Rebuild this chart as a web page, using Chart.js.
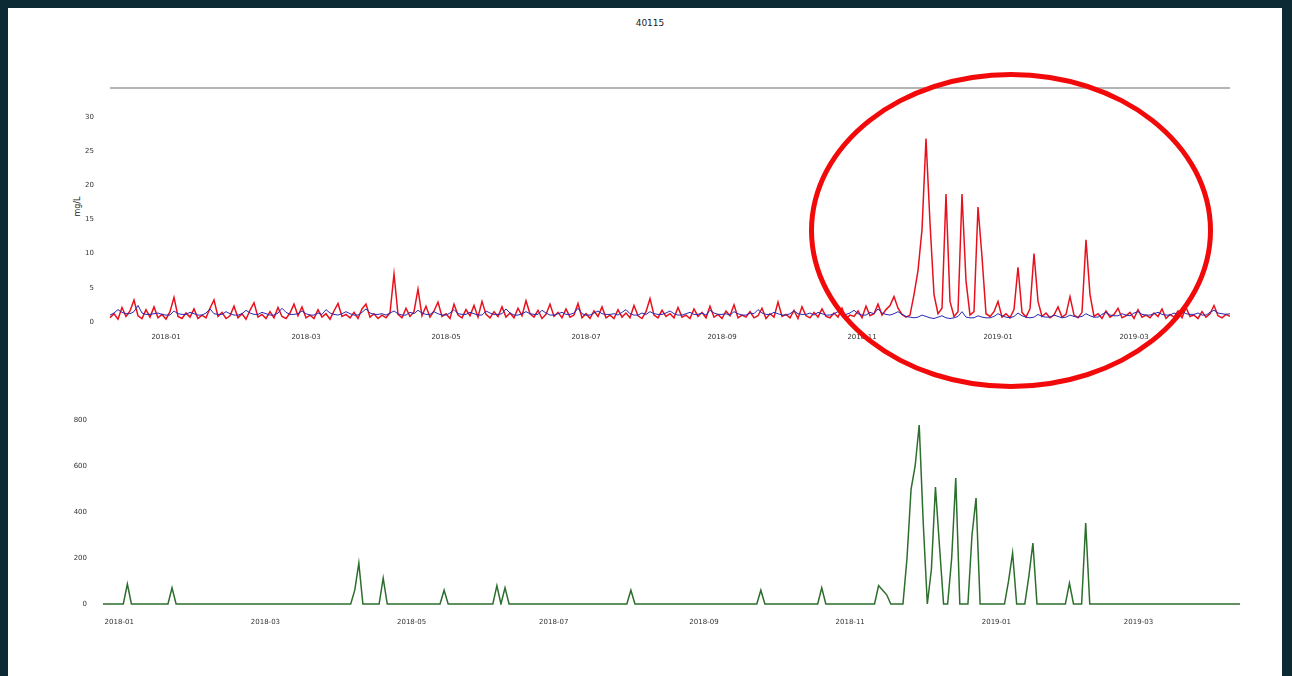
<!DOCTYPE html>
<html>
<head>
<meta charset="utf-8">
<script src="https://cdn.jsdelivr.net/npm/chart.js@4.4.1/dist/chart.umd.min.js"></script>
<style>
  html, body { margin: 0; padding: 0; }
  body { width: 1292px; height: 676px; background: #0c2a33; position: relative; overflow: hidden; }
  #panel { position: absolute; left: 8px; top: 8px; width: 1274px; height: 668px; background: #fff; }
  #title { position: absolute; left: 0; top: 18px; width: 1300px; text-align: center;
           font: 9px "DejaVu Sans", sans-serif; color: #222; }
  #ylab { position: absolute; left: 67px; top: 202px; transform: rotate(-90deg);
          font: 8px "DejaVu Sans", sans-serif; color: #222; }
  canvas { position: absolute; }
  /* anotación: elipse roja sobre el gráfico superior */
  #marca { position: absolute; left: 809px; top: 72px; width: 394px; height: 307px;
           border: 5px solid #f20a0a; border-radius: 50%; pointer-events: none; }
</style>
</head>
<body>
<div id="panel"></div>
<div id="title">40115</div>
<div id="ylab">mg/L</div>
<canvas id="topChart" width="1222" height="265" style="left:8px; top:80px;"></canvas>
<canvas id="bottomChart" width="1232" height="225" style="left:8px; top:405px;"></canvas>
<div id="marca"></div>
<script>
// ── DATOS ──────────────────────────────────────────────
// serie roja (superior)
const redValues = [
  0.6,1.2,0.4,2.1,0.8,1.6,3.2,0.9,0.5,1.8,0.7,2.2,0.6,1.1,0.4,1.5,3.6,0.8,0.5,1.3,
  0.7,1.9,0.5,1.0,0.6,2.0,3.2,0.8,1.4,0.5,0.9,2.3,0.6,1.2,0.4,1.7,2.8,0.7,1.1,0.5,
  1.5,0.6,2.1,0.8,0.5,1.3,2.6,0.9,2.2,0.6,1.0,0.5,1.8,0.7,1.2,0.4,1.6,2.7,0.8,1.1,
  0.6,1.4,0.5,1.9,2.6,0.7,1.2,0.5,1.0,0.6,1.3,7.0,1.1,0.6,2.0,0.8,1.5,4.8,0.9,2.3,
  0.7,1.6,2.9,0.8,1.2,0.5,2.6,1.0,0.6,1.8,0.9,2.4,0.7,3.0,1.1,0.6,1.5,0.8,2.2,0.7,
  1.3,0.6,2.0,0.9,3.1,1.2,0.7,1.7,0.5,1.1,2.6,0.8,1.4,0.6,1.9,0.7,1.0,2.7,0.6,1.2,
  0.5,1.6,0.8,2.2,0.6,1.0,0.5,1.8,0.7,1.3,0.6,2.4,0.9,0.5,1.5,3.4,1.0,0.6,1.7,0.8,
  1.2,0.6,2.1,0.7,1.0,0.5,1.9,0.8,1.4,0.6,2.3,0.7,1.1,0.5,1.6,0.9,2.5,0.6,1.0,0.7,
  1.5,0.6,0.9,2.0,0.5,1.2,0.7,2.9,0.8,1.1,0.6,1.7,0.5,2.2,0.9,0.6,1.4,0.7,1.9,0.8,
  0.6,1.3,0.7,2.0,0.5,1.0,0.8,1.6,0.6,2.3,0.9,1.2,2.6,1.0,1.8,2.4,3.7,2.0,1.1,0.7,
  1.0,4.0,7.5,13.5,26.8,14.5,4.0,1.2,2.0,18.7,3.0,0.8,1.5,18.7,6.0,1.0,1.5,16.8,9.5,1.2,
  0.8,1.5,3.0,0.7,1.2,0.6,1.8,8.0,1.4,0.7,1.9,10.0,3.0,0.8,1.3,0.6,1.0,2.2,0.7,1.1,
  3.7,1.0,0.6,1.4,12.0,4.0,0.8,1.2,0.5,1.6,0.7,1.1,2.0,0.6,0.9,1.4,0.5,1.8,0.7,1.0,
  0.6,1.3,0.8,1.9,0.5,1.1,0.7,1.6,0.6,2.1,0.8,1.0,0.5,1.5,0.7,1.2,2.4,0.9,0.6,1.1,
  0.8
];
// serie azul (superior)
const blueValues = [
  1.0,1.3,1.8,1.4,1.2,1.2,1.5,2.4,1.3,1.1,1.1,1.2,1.3,1.1,1.0,1.0,1.6,1.2,1.1,1.1,
  1.4,1.2,1.0,1.0,1.3,1.9,1.2,1.1,1.1,1.5,1.2,1.0,1.0,1.2,1.7,1.3,1.1,1.1,1.4,1.2,
  1.0,1.0,1.3,2.0,1.4,1.1,1.1,1.2,1.6,1.2,1.0,1.0,1.3,1.1,1.8,1.3,1.1,1.0,1.2,1.5,
  1.2,1.0,1.0,1.4,1.9,1.3,1.1,1.1,1.2,1.0,1.3,1.6,1.2,1.0,1.0,1.4,1.2,1.7,1.3,1.1,
  1.1,1.5,1.2,1.0,1.0,1.3,1.8,1.2,1.1,1.1,1.4,1.2,1.0,1.0,1.6,1.3,1.1,1.1,1.2,1.9,
  1.3,1.0,1.0,1.2,1.5,1.2,1.1,1.1,1.7,1.3,1.0,1.0,1.2,1.4,1.1,1.1,1.3,2.0,1.2,1.0,
  1.0,1.3,1.6,1.2,1.1,1.1,1.2,1.0,1.4,1.8,1.2,1.0,1.0,1.3,1.1,1.5,1.2,1.1,1.1,1.3,
  1.6,1.2,1.0,1.0,1.2,1.4,1.1,1.1,1.3,1.0,1.7,1.3,1.1,1.1,1.2,1.0,1.5,1.2,1.0,1.0,
  1.3,1.2,1.8,1.3,1.1,1.1,1.4,1.2,1.0,1.0,1.2,1.6,1.2,1.1,1.1,1.3,1.0,1.4,1.2,1.0,
  1.0,1.2,1.5,1.1,1.1,1.3,1.7,1.2,1.0,1.0,1.4,1.2,1.9,1.3,1.1,1.0,1.2,1.5,1.1,0.8,
  0.7,0.6,0.7,1.0,0.8,0.6,0.5,0.7,0.9,0.6,0.5,0.6,0.8,1.5,0.7,0.6,0.6,0.9,0.7,0.6,
  0.6,0.8,1.2,0.9,0.7,0.6,0.8,1.3,0.9,0.7,0.6,0.7,1.1,0.8,0.7,0.7,1.0,0.8,0.6,0.7,
  1.0,0.8,0.7,0.8,1.2,0.9,0.7,0.7,1.1,1.4,1.0,0.9,0.9,1.2,1.0,0.9,1.3,1.5,1.1,1.0,
  1.0,1.2,1.4,1.1,1.0,1.0,1.3,1.1,1.6,1.2,1.1,1.1,1.3,1.0,1.0,1.4,1.7,1.3,1.2,1.1,
  1.2
];
// serie verde (inferior)
const greenValues = [
  0,0,0,0,0,0,87,0,0,0,0,0,0,0,0,0,0,70,0,0,
  0,0,0,0,0,0,0,0,0,0,0,0,0,0,0,0,0,0,0,0,
  0,0,0,0,0,0,0,0,0,0,0,0,0,0,0,0,0,0,0,0,
  0,0,60,178,0,0,0,0,0,113,0,0,0,0,0,0,0,0,0,0,
  0,0,0,0,60,0,0,0,0,0,0,0,0,0,0,0,0,80,0,70,
  0,0,0,0,0,0,0,0,0,0,0,0,0,0,0,0,0,0,0,0,
  0,0,0,0,0,0,0,0,0,0,60,0,0,0,0,0,0,0,0,0,
  0,0,0,0,0,0,0,0,0,0,0,0,0,0,0,0,0,0,0,0,
  0,0,60,0,0,0,0,0,0,0,0,0,0,0,0,0,0,70,0,0,
  0,0,0,0,0,0,0,0,0,0,0,80,60,40,0,0,0,0,200,500,
  600,778,350,0,150,509,250,0,0,200,548,0,0,0,300,461,0,0,0,0,
  0,0,0,100,222,0,0,0,120,265,0,0,0,0,0,0,0,0,91,0,
  0,0,352,0,0,0,0,0,0,0,0,0,0,0,0,0,0,0,0,0,
  0,0,0,0,0,0,0,0,0,0,0,0,0,0,0,0,0,0,0,0,
  0
];

// etiquetas de los ejes
const topTickLabels    = ['2018-01','2018-03','2018-05','2018-07','2018-09','2018-11','2019-01','2019-03'];
const topTickIdx       = [14, 49, 84, 119, 153, 188, 222, 256];
const bottomTickLabels = ['2018-01','2018-03','2018-05','2018-07','2018-09','2018-11','2019-01','2019-03'];
const bottomTickIdx    = [4, 40, 76, 111, 148, 184, 220, 255];
const topYTicks    = [0, 5, 10, 15, 20, 25, 30];
const bottomYTicks = [0, 200, 400, 600, 800];

const labels = redValues.map((_, i) => i);
const tickFont = { family: 'DejaVu Sans', size: 7 };

// línea gris arriba del gráfico superior
const topLine = {
  id: 'topLine',
  afterDraw(chart) {
    const { ctx, chartArea } = chart;
    ctx.save();
    ctx.strokeStyle = '#b4b4b4';
    ctx.lineWidth = 2;
    ctx.beginPath();
    ctx.moveTo(chartArea.left, chartArea.top);
    ctx.lineTo(chartArea.right, chartArea.top);
    ctx.stroke();
    ctx.restore();
  }
};

function xScale(tickIdx, tickLabels, height, pad) {
  return {
    type: 'category',
    offset: false,
    grid: { display: false },
    border: { display: false },
    afterFit: s => { s.height = height; s.paddingLeft = 0; s.paddingRight = 0; },
    afterBuildTicks: s => { s.ticks = tickIdx.map(v => ({ value: v })); },
    ticks: {
      autoSkip: false, maxRotation: 0, padding: pad, color: '#333', font: tickFont,
      callback: (v, i) => tickLabels[i]
    }
  };
}

function yScale(min, max, yTicks, width) {
  return {
    min: min, max: max,
    grid: { display: false },
    border: { display: false },
    afterFit: s => { s.width = width; s.paddingTop = 0; s.paddingBottom = 0; },
    afterBuildTicks: s => { s.ticks = yTicks.map(v => ({ value: v })); },
    ticks: { padding: 8, color: '#333', font: tickFont }
  };
}

const common = {
  responsive: false,
  animation: false,
  plugins: { legend: { display: false }, tooltip: { enabled: false } },
  elements: { point: { radius: 0 }, line: { tension: 0 } }
};

new Chart(document.getElementById('topChart'), {
  type: 'line',
  data: {
    labels: labels,
    datasets: [
      { data: blueValues, borderColor: '#2a2ab4', borderWidth: 1, order: 1 },
      { data: redValues,  borderColor: '#e8101c', borderWidth: 1.5, order: 2 }
    ]
  },
  options: {
    ...common,
    layout: { padding: { top: 8, right: 0, left: 0, bottom: 0 } },
    scales: {
      x: xScale(topTickIdx, topTickLabels, 20, 0),
      y: yScale(-0.45, 34.2, topYTicks, 102)
    }
  },
  plugins: [topLine]
});

new Chart(document.getElementById('bottomChart'), {
  type: 'line',
  data: {
    labels: labels,
    datasets: [
      { data: greenValues, borderColor: '#2c6e2c', borderWidth: 1.5 }
    ]
  },
  options: {
    ...common,
    layout: { padding: { top: 10, right: 0, left: 0, bottom: 0 } },
    scales: {
      x: xScale(bottomTickIdx, bottomTickLabels, 25, 5),
      y: yScale(-4.3, 821.7, bottomYTicks, 95)
    }
  }
});
</script>
</body>
</html>
